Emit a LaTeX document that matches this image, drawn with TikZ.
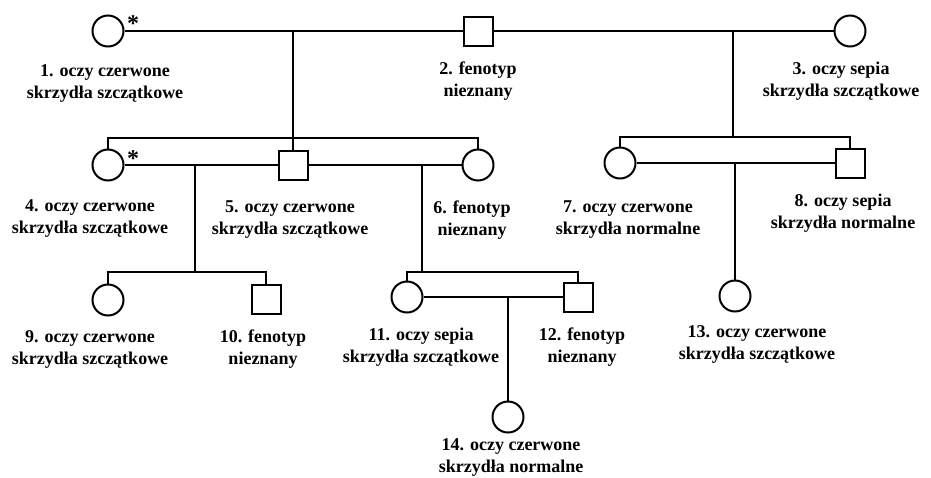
\documentclass[tikz,border=0pt]{standalone}
\usepackage{fontspec}
\setmainfont{Liberation Serif}
\begin{document}
\begin{tikzpicture}[x=1pt,y=-1pt,
  line width=2pt,
  fem/.style={circle,draw,minimum size=31pt,inner sep=0pt},
  mal/.style={rectangle,draw,minimum size=29pt,inner sep=0pt},
  lab/.style={align=center,inner sep=0pt,font=\fontsize{18}{22}\selectfont\bfseries},
  star/.style={inner sep=0pt,font=\fontsize{24}{24}\selectfont\bfseries}]
\useasboundingbox (0,0) rectangle (931,477);
% individuals
\node[fem] (p1) at (108,31) {};
\node[mal] (p2) at (478,31) {};
\node[fem] (p3) at (850,31) {};
\node[fem] (p4) at (108,165) {};
\node[mal] (p5) at (293,165) {};
\node[fem] (p6) at (478,165) {};
\node[fem] (p7) at (620,163) {};
\node[mal] (p8) at (850,163) {};
\node[fem] (p9) at (108,300) {};
\node[mal] (p10) at (266,299) {};
\node[fem] (p11) at (407,297) {};
\node[mal] (p12) at (578,297) {};
\node[fem] (p13) at (735,296) {};
\node[fem] (p14) at (508,417) {};
% stars
\node[star] (s1) at (133,24) {*};
\node[star] (s4) at (133,159) {*};
% junction coordinates
\coordinate (m12) at (293,31);
\coordinate (k12) at (293,138);
\coordinate (k12l) at (108,138);
\coordinate (k12r) at (478,138);
\coordinate (m23) at (733,31);
\coordinate (k23) at (733,137);
\coordinate (k23l) at (620,137);
\coordinate (k23r) at (850,137);
\coordinate (m45) at (195,165);
\coordinate (k45) at (195,272);
\coordinate (k45l) at (108,272);
\coordinate (k45r) at (266,272);
\coordinate (m56) at (422,165);
\coordinate (k56) at (422,272);
\coordinate (k56l) at (407,272);
\coordinate (k56r) at (578,272);
\coordinate (m78) at (735,163);
\coordinate (m1112) at (508,297);
% matings
\draw (p1.east) -- (p2.west);
\draw (p2.east) -- (p3.west);
\draw (p4.east) -- (p5.west);
\draw (p5.east) -- (p6.west);
\draw (p7.east) -- (p8.west);
\draw (p11.east) -- (p12.west);
% descent
\draw (m12) -- (k12) -- (p5.north);
\draw (p4.north) -- (k12l) -- (k12r) -- (p6.north);
\draw (m23) -- (k23);
\draw (p7.north) -- (k23l) -- (k23r) -- (p8.north);
\draw (m45) -- (k45);
\draw (p9.north) -- (k45l) -- (k45r) -- (p10.north);
\draw (m56) -- (k56);
\draw (p11.north) -- (k56l) -- (k56r) -- (p12.north);
\draw (m78) -- (p13.north);
\draw (m1112) -- (p14.north);
% labels
\node[lab] (l1) at (105,83) {1. oczy czerwone\\skrzydła szczątkowe};
\node[lab] (l2) at (478,81) {2. fenotyp\\nieznany};
\node[lab] (l3) at (841,81) {3. oczy sepia\\skrzydła szczątkowe};
\node[lab] (l4) at (90,219) {4. oczy czerwone\\skrzydła szczątkowe};
\node[lab] (l5) at (290,220) {5. oczy czerwone\\skrzydła szczątkowe};
\node[lab] (l6) at (472,220) {6. fenotyp\\nieznany};
\node[lab] (l7) at (628,220) {7. oczy czerwone\\skrzydła normalne};
\node[lab] (l8) at (843,213) {8. oczy sepia\\skrzydła normalne};
\node[lab] (l9) at (90,349) {9. oczy czerwone\\skrzydła szczątkowe};
\node[lab] (l10) at (263,349) {10. fenotyp\\nieznany};
\node[lab] (l11) at (421,347) {11. oczy sepia\\skrzydła szczątkowe};
\node[lab] (l12) at (582,347) {12. fenotyp\\nieznany};
\node[lab] (l13) at (757,344) {13. oczy czerwone\\skrzydła szczątkowe};
\node[lab] (l14) at (511,457) {14. oczy czerwone\\skrzydła normalne};
\end{tikzpicture}
\end{document}
